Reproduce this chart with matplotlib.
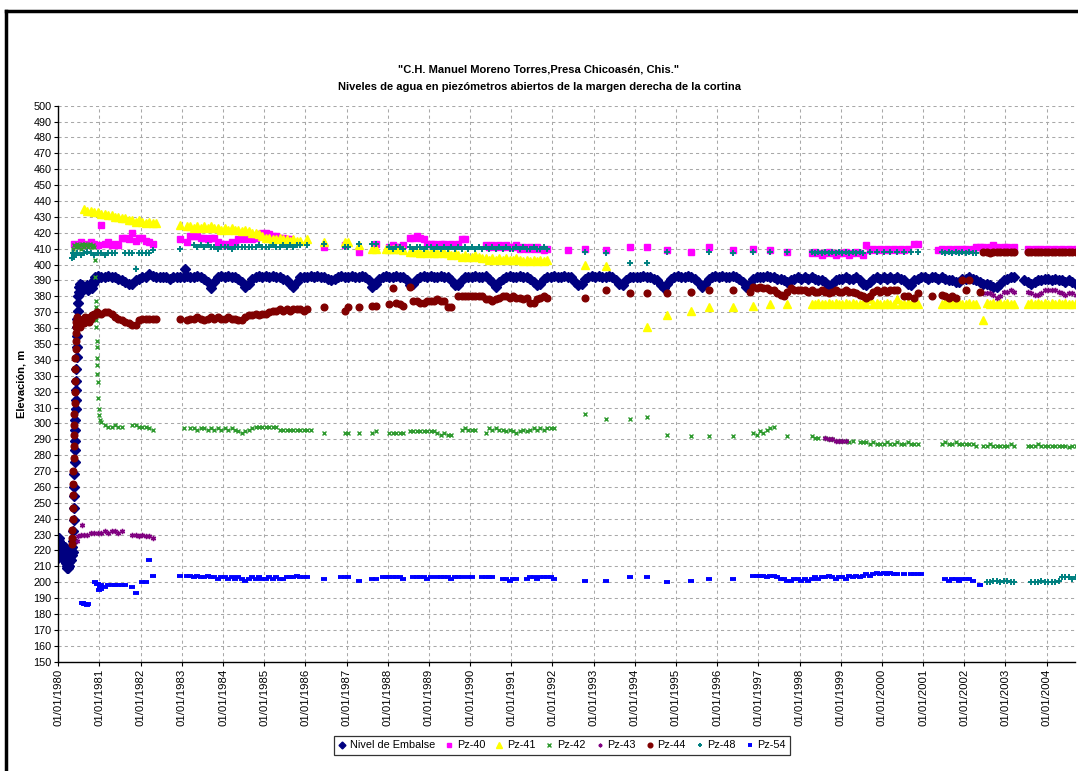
import numpy as np
import matplotlib
matplotlib.use('Agg')
import matplotlib.pyplot as plt
from matplotlib.lines import Line2D

N = None
vacio = [N] * 12

# valores mensuales (ene..dic), una fila por año desde 1980
nivel = [
    vacio,
    [392, 392, 393, 392, 392, 391, 390, 389, 388, 388, 390, 391],
    [392, 392, 394, 393, 392, 392, 392, 392, 391, 392, 392, 392],
    [392, 393, 392, 392, 393, 392, 391, 389, 385, 389, 392, 393],
    [392, 393, 392, 392, 391, 389, 386, 388, 391, 392, 393, 392],
    [393, 392, 393, 392, 392, 391, 390, 388, 386, 389, 392, 392],
    [392, 393, 392, 393, 392, 392, 391, 390, 391, 392, 393, 392],
    [392, 393, 392, 392, 393, 392, 390, 386, 388, 391, 392, 393],
    [392, 392, 393, 392, 392, 390, 387, 388, 391, 392, 393, 392],
    [393, 392, 392, 393, 392, 392, 390, 387, 387, 390, 392, 392],
    [392, 393, 392, 392, 393, 391, 389, 386, 389, 391, 392, 393],
    [392, 392, 393, 392, 392, 391, 389, 387, 388, 391, 392, 392],
    [393, 392, 392, 393, 392, 392, 389, 387, 388, 391, 392, 393],
    [392, 393, 392, 392, 393, 392, 390, 388, 387, 390, 392, 392],
    [392, 392, 393, 392, 392, 391, 390, 387, 385, 388, 391, 392],
    [393, 392, 392, 393, 392, 391, 389, 386, 388, 391, 392, 393],
    [392, 393, 392, 392, 393, 392, 391, 389, 386, 388, 391, 392],
    [392, 392, 393, 392, 392, 391, 391, 390, 389, 390, 391, 392],
    [391, 392, 391, 392, 391, 390, 390, 389, 386, 388, 390, 391],
    [391, 392, 391, 391, 392, 390, 388, 387, 389, 391, 392, 391],
    [392, 391, 392, 391, 392, 391, 390, 388, 387, 390, 391, 392],
    [392, 391, 392, 392, 391, 392, 391, 390, 390, 389, 389, 391],
    [391, 392, 391, 390, 389, 388, 388, 387, 386, 386, 388, 390],
    [391, 392, 392, N, N, 390, 389, 388, 389, 390, 390, 391],
    [391, 390, 391, 390, 390, 389, 390, 389, 388, N, N, N],
]
nivel_ext_t = [1980.00, 1980.01, 1980.02, 1980.03, 1980.04, 1980.05, 1980.06, 1980.07, 1980.08,
               1980.09, 1980.10, 1980.11, 1980.12, 1980.13, 1980.14, 1980.15, 1980.16, 1980.17,
               1980.18, 1980.19, 1980.20, 1980.21, 1980.22, 1980.23, 1980.24, 1980.25, 1980.26,
               1980.27, 1980.28, 1980.29, 1980.30, 1980.31, 1980.32, 1980.33, 1980.34, 1980.35,
               1980.36, 1980.365, 1980.37, 1980.375, 1980.38, 1980.385, 1980.39, 1980.395,
               1980.40, 1980.405, 1980.41, 1980.415, 1980.42, 1980.425, 1980.43, 1980.435,
               1980.44, 1980.445, 1980.45, 1980.455, 1980.46, 1980.465, 1980.47, 1980.48,
               1980.49, 1980.50, 1980.51, 1980.52,
               1980.54, 1980.57, 1980.60, 1980.63, 1980.66, 1980.69, 1980.72, 1980.75,
               1980.78, 1980.81, 1980.84, 1980.87, 1980.90, 1980.93, 1980.96, 1983.08]
nivel_ext_v = [215, 226, 228, 224, 221, 225, 219, 222, 217, 220, 216, 223, 221, 214, 219, 216,
               222, 218, 215, 212, 219, 210, 209, 220, 209, 213, 210, 218, 221, 216, 219, 214,
               220, 217, 222, 219,
               226, 232, 239, 247, 254, 260, 268, 276, 283, 289, 296, 302, 309, 315, 321, 327,
               334, 342, 348, 355, 361, 366, 371, 376, 380, 383, 386, 388,
               385, 387, 384, 386, 385, 387, 384, 386, 387, 385, 388, 390, 392, 391, 393, 397]

pz40 = [
    [N, N, N, N, 413, 412, 414, 413, 412, 414, 413, 412],
    [425, 413, 414, 412, 413, 412, 417, 417, 416, 420, 415, 417],
    [417, 415, 414, 413, N, N, N, N, N, N, N, 416],
    [N, 414, 418, 418, 418, 417, 417, 416, 417, 417, 414, 413],
    [413, 412, 414, 413, 416, 417, 416, 417, 416, 417, 419, 420],
    [420, 419, 418, 418, 417, 417, 416, 416, N, N, N, N],
    [N, N, N, N, N, 411, N, N, N, N, N, 412],
    [N, N, N, 408, N, N, N, N, 413, N, N, N],
    [411, 412, 411, 411, 412, N, 417, 417, 418, 417, 416, 413],
    [413, 413, 412, 413, 413, 412, 413, 412, 413, 416, 416, N],
    [N, N, N, N, 412, 411, 412, 411, 412, 411, 412, 411],
    [411, 412, 410, 411, 410, 411, 410, 411, 410, 409, 410, N],
    [N, N, N, N, 409, N, N, N, N, 410, N, N],
    [N, N, N, 409, N, N, N, N, N, N, 411, N],
    [N, N, N, 411, N, N, N, N, N, 409, N, N],
    [N, N, N, N, 408, N, N, N, N, 411, N, N],
    [N, N, N, N, 409, N, N, N, N, N, 410, N],
    [N, N, N, 409, N, N, N, N, 408, N, N, N],
    [N, N, N, 407, 408, 407, 406, 407, 408, 407, 406, 407],
    [407, 408, 406, 407, 408, 407, 406, 412, 409, 410, 409, 410],
    [409, 410, 409, 410, 409, 410, 409, 410, N, 413, 413, N],
    [N, N, N, N, 409, 410, 409, 410, 409, 410, 409, 410],
    [410, 409, 410, 411, 411, 411, 410, 411, 412, 411, 410, 411],
    [411, 410, 411, N, N, N, 410, 409, 410, 409, 410, 409],
    [410, 409, 410, 409, 410, 409, 410, 409, 410, N, N, N],
]

pz41 = [
    [N, N, N, N, N, N, N, 435, 434, 434, 433, 433],
    [432, 432, 431, 431, 430, 430, 429, 429, 428, 428, 427, 428],
    [427, 426, 427, 426, 426, N, N, N, N, N, N, 425],
    [N, 424, 424, 423, 424, 423, 424, 423, 424, 423, 423, 422],
    [423, 422, 423, 422, 422, 421, 422, 421, 420, 420, 419, 418],
    [417, 417, 416, 416, 417, 416, 416, 415, 416, 415, 415, N],
    [416, N, N, N, N, 414, N, N, N, N, N, 414],
    [414, N, N, 412, N, N, N, 410, 410, N, N, 410],
    [410, 410, 410, 410, 409, N, 408, 408, 408, 407, 408, 407],
    [408, 407, 407, 408, 407, 407, 406, 407, 406, 405, 406, 405],
    [405, 406, 405, 404, 404, 403, 404, 403, 404, 403, 404, 403],
    [403, 404, 403, 402, 403, 402, 403, 402, 403, 402, 403, N],
    [N, N, N, N, N, N, N, N, N, 400, N, N],
    [N, N, N, 399, N, N, N, N, N, N, N, N],
    [N, N, N, 361, N, N, N, N, N, 368, N, N],
    [N, N, N, N, 371, N, N, N, N, 373, N, N],
    [N, N, N, N, 373, N, N, N, N, N, 374, N],
    [N, N, N, 375, N, N, N, N, 375, N, N, N],
    [N, N, N, 375, 375, 376, 375, 375, 376, 375, 376, 375],
    [375, 376, 375, 376, 375, 375, 376, 375, 378, 375, 376, 375],
    [375, 376, 375, 375, 378, 375, 375, 376, 375, 376, 375, N],
    [N, N, N, N, N, 375, 376, 375, 376, 375, 376, 375],
    [375, 376, 375, 375, N, 365, 376, 375, 376, 375, 376, 375],
    [376, 375, 375, N, N, N, 375, 376, 375, 376, 375, 376],
    [375, 376, 375, 376, 375, 376, 375, 375, 376, N, N, N],
]

pz42 = [
    vacio,
    [301, 299, 298, 298, 299, 298, 298, N, N, 299, 299, 298],
    [298, 298, 297, 296, N, N, N, N, N, N, N, N],
    [297, N, 297, 297, 296, 297, 297, 296, 297, 296, 297, 296],
    [297, 296, 297, 296, 295, 294, 295, 296, 297, 298, 298, 298],
    [298, 298, 298, 298, 296, 296, 296, 296, 296, 296, 296, 296],
    [296, 296, N, N, N, 294, N, N, N, N, N, 294],
    [294, N, N, 294, N, N, N, 294, 295, N, N, N],
    [294, 294, 294, 294, 294, N, 295, 295, 295, 295, 295, 295],
    [295, 295, 294, 293, 294, 293, 293, N, N, 296, 297, 296],
    [296, 296, N, N, 294, 297, 296, 297, 296, 296, 295, 296],
    [295, 294, 295, 296, 295, 296, 297, 296, 297, 296, 297, 297],
    [297, N, N, N, N, N, N, N, N, 306, N, N],
    [N, N, N, 303, N, N, N, N, N, N, 303, N],
    [N, N, N, 304, N, N, N, N, N, 293, N, N],
    [N, N, N, N, 292, N, N, N, N, 292, N, N],
    [N, N, N, N, 292, N, N, N, N, N, 294, 293],
    [295, 294, 296, 297, 298, N, N, N, 292, N, N, N],
    [N, N, N, 292, 291, 291, N, 291, 290, 290, N, 289],
    [289, 289, 288, 289, N, 288, 288, 288, 287, 288, 287, 287],
    [287, 288, 287, 287, 288, 287, 287, 288, 287, 287, 287, N],
    [N, N, N, N, N, 287, 288, 287, 287, 288, 287, 287],
    [287, 287, 287, 286, N, 286, 286, 287, 286, 286, 286, 286],
    [286, 287, 286, N, N, N, 286, 286, 286, 287, 286, 286],
    [286, 286, 286, 286, 286, 286, 285, 286, 286, N, N, N],
]
pz42_ext_t = [1980.36, 1980.39, 1980.42, 1980.45, 1980.48, 1980.51, 1980.54, 1980.57, 1980.60,
              1980.63, 1980.66, 1980.69, 1980.72, 1980.75, 1980.78, 1980.81, 1980.84, 1980.87,
              1980.89, 1980.90, 1980.91, 1980.915, 1980.92, 1980.925, 1980.93, 1980.935,
              1980.94, 1980.945, 1980.95, 1980.955, 1980.97, 1980.98, 1981.00, 1981.02]
pz42_ext_v = [410, 412, 411, 413, 411, 412, 410, 413, 412, 411, 413, 412, 411, 412, 413, 411,
              412, 411,
              403, 392, 377, 373, 365, 361, 352, 348, 341, 337, 331, 326, 316, 309, 305, 302]

pz43 = [
    [N, N, N, N, N, N, 230, 230, 230, 231, 231, 231],
    [231, 232, 231, 232, 232, 231, 232, N, N, 230, 230, 229],
    [230, 229, 229, 228, N, N, N, N, N, N, N, N],
    vacio, vacio, vacio, vacio, vacio, vacio, vacio, vacio,
    vacio, vacio, vacio, vacio, vacio, vacio, vacio,
    [N, N, N, N, N, N, N, 291, 290, 290, 289, 289],
    [289, 289, N, N, N, N, N, N, N, N, N, N],
    vacio,
    vacio,
    [N, N, N, N, N, 382, 382, 382, 381, 379, 380, 383],
    [383, 384, 383, N, N, N, 383, 382, 381, 381, 382, 384],
    [384, 384, 384, 383, 382, 381, 382, 382, 381, N, N, N],
]
pz43_ext_t = [1980.45, 1980.47, 1980.57]
pz43_ext_v = [226, 229, 236]

pz44 = [
    vacio,
    [369, 370, 370, 369, 367, 366, 365, 364, 363, 362, 362, 365],
    [366, 366, 366, 366, 366, N, N, N, N, N, N, 366],
    [N, 365, 366, 366, 367, 366, 365, 366, 367, 366, 367, 366],
    [366, 367, 366, 366, 365, 365, 367, 368, 368, 369, 368, 369],
    [369, 370, 371, 371, 372, 371, 372, 371, 372, 372, 372, 371],
    [372, N, N, N, N, 373, N, N, N, N, N, 371],
    [373, N, N, 373, N, N, N, 374, 374, N, N, N],
    [375, 385, 376, 375, 374, N, 386, 377, 377, 376, 376, 377],
    [377, 377, 378, 377, 377, 373, 373, N, 380, 380, 380, 380],
    [380, 380, 380, 380, 378, 378, 377, 378, 379, 380, 380, 379],
    [380, 379, 379, 378, 379, 376, 376, 378, 379, 380, 379, N],
    [N, N, N, N, N, N, N, N, N, 379, N, N],
    [N, N, N, 384, N, N, N, N, N, N, 382, N],
    [N, N, N, 382, N, N, N, N, N, 382, N, N],
    [N, N, N, N, 383, N, N, N, N, 384, N, N],
    [N, N, N, N, 384, N, N, N, N, 383, 386, 385],
    [386, 385, 385, 384, 384, 382, 381, 380, 383, 385, 384, 384],
    [384, 384, 383, 384, 383, 383, 384, 383, 382, 383, 384, 383],
    [383, 384, 383, 383, 382, 381, 380, 379, 380, 383, 384, 383],
    [384, 383, 384, 384, 384, N, 380, 380, N, 379, 382, N],
    [N, N, 380, N, N, 381, 380, 379, 380, 379, N, 390],
    [384, 390, N, N, 383, 408, 408, 407, 408, 408, 408, 408],
    [408, 408, 408, N, N, N, 408, 408, 408, 408, 408, 408],
    [408, 408, 408, 408, 408, 408, 408, 408, 408, N, N, N],
]
pz44_ext_t = [1980.33, 1980.335, 1980.34, 1980.345, 1980.35, 1980.355, 1980.36, 1980.365,
              1980.37, 1980.375, 1980.38, 1980.385, 1980.39, 1980.395, 1980.40, 1980.405,
              1980.41, 1980.415, 1980.42, 1980.425, 1980.43, 1980.435, 1980.44, 1980.45,
              1980.46, 1980.47, 1980.49, 1980.51, 1980.53, 1980.56, 1980.59, 1980.62, 1980.65,
              1980.68, 1980.71, 1980.74, 1980.77, 1980.80, 1980.83, 1980.86, 1980.90, 1980.94]
pz44_ext_v = [224, 228, 233, 240, 247, 255, 262, 270, 278, 286, 293, 299, 306, 313, 320, 327,
              334, 341, 347, 352, 357, 361, 364, 366, 367, 365, 362, 365, 361, 364, 366, 363,
              367, 365, 366, 364, 367, 366, 368, 369, 368, 370]

pz48 = [
    [N, N, N, N, 406, 407, 406, 407, 408, 407, 406, 407],
    [407, 406, 407, 407, 407, N, N, 407, 407, 407, 397, 407],
    [407, 407, 407, 409, N, N, N, N, N, N, N, 410],
    [N, N, N, 412, 411, 412, 411, 412, 411, 411, 410, 411],
    [411, 411, 410, 411, 411, 411, 411, 411, 411, 411, 412, 411],
    [411, 411, 412, 411, 411, 412, 411, 412, 411, 412, 412, N],
    [412, N, N, N, N, 413, N, N, N, N, N, 411],
    [411, N, N, 413, N, N, N, 413, 413, N, N, N],
    [411, 410, 411, 411, 410, N, 411, 410, 411, 411, 410, 411],
    [411, 410, 411, 410, 411, 410, 411, 410, 411, 410, 411, 410],
    [411, 410, 411, 410, 411, 410, 411, 410, 411, 410, 411, 410],
    [410, 411, 410, 411, 410, 410, 411, 410, 410, 411, 410, N],
    [N, N, N, N, N, N, N, N, N, 408, N, N],
    [N, N, N, 407, N, N, N, N, N, N, 401, N],
    [N, N, N, 401, N, N, N, N, N, 408, N, N],
    [N, N, N, N, N, N, N, N, N, 408, N, N],
    [N, N, N, N, 407, N, N, N, N, N, 408, N],
    [N, N, N, 408, N, N, N, N, 408, N, N, N],
    [N, N, N, 408, 407, 408, 407, 408, 407, 408, 407, 408],
    [407, 408, 407, 408, 407, 408, 407, N, 408, N, 408, N],
    [408, N, 408, N, 408, N, 408, N, 408, N, 408, N],
    [N, N, N, N, N, 408, 407, 408, 407, 408, 407, 408],
    [407, 408, 407, 407, N, N, 200, 200, 201, 201, 200, 201],
    [201, 200, 200, N, N, N, N, 200, 200, 200, 201, 200],
    [200, 200, 200, 201, 203, 203, 203, 202, 203, N, N, N],
]
pz48_ext_t = [1980.33, 1980.35, 1980.38]
pz48_ext_v = [404, 407, 405]

pz54 = [
    vacio,
    [198, 197, 198, 198, 198, 198, 198, 198, N, 197, 193, N],
    [200, 200, 214, 204, N, N, N, N, N, N, N, 204],
    [N, 204, 204, 203, 204, 203, 203, 204, 203, 203, 202, 203],
    [203, 202, 203, 202, 203, 202, 201, 202, 203, 202, 203, 202],
    [202, 203, 202, 203, 202, 202, 203, 203, 203, 204, 203, 203],
    [203, N, N, N, N, 202, N, N, N, N, 203, 203],
    [203, N, N, 201, N, N, N, 202, 202, N, 203, 203],
    [203, 203, 203, 203, 202, N, N, 203, 203, 203, 203, 202],
    [203, N, 203, 203, 203, 203, 202, 203, 203, 203, N, 203],
    [203, N, N, 203, 203, 203, 203, N, N, 202, 202, 201],
    [202, 202, N, N, 202, 203, 203, 202, 203, 203, 203, 203],
    [202, N, N, N, N, N, N, N, N, 201, N, N],
    [N, N, N, 201, N, N, N, N, N, N, 203, N],
    [N, N, N, 203, N, N, N, N, N, 200, N, N],
    [N, N, N, N, 201, N, N, N, N, 202, N, N],
    [N, N, N, N, 202, N, N, N, N, N, 204, 204],
    [204, 204, 203, 204, 204, 203, 202, 202, 201, 201, 202, 202],
    [201, 202, 201, 202, 203, 202, 203, 203, 204, 203, 202, 203],
    [203, 202, 204, 203, 204, 203, 204, 205, 204, 205, 206, 205],
    [206, 205, 206, 205, 205, N, 205, N, 205, 205, 205, 205],
    [N, N, N, N, N, N, 202, 201, 202, 202, 201, 202],
    [202, 202, 201, N, 198, N, N, N, N, N, N, N],
    vacio,
    vacio,
]
pz54_ext_t = [1980.57, 1980.60, 1980.63, 1980.66, 1980.69, 1980.72,
              1980.90, 1980.93, 1980.96, 1980.99, 1981.01, 1981.03]
pz54_ext_v = [187, 187, 186.5, 186, 185.5, 186, 200, 199, 199, 195, 197, 196]

anios = list(range(1980, 2005))


def mensual(filas, ext_t=(), ext_v=()):
    """filas por año -> listas de fecha decimal y valor"""
    t, v = list(ext_t), list(ext_v)
    for anio, fila in zip(anios, filas):
        for m, val in enumerate(fila):
            if val is not None:
                t.append(anio + (m + 0.5) / 12)
                v.append(val)
    return t, v


plt.rcParams['font.family'] = ['Liberation Sans', 'DejaVu Sans']

fig = plt.figure(figsize=(10.78, 7.71), dpi=100)
ax = fig.add_axes([0.0541, 0.1418, 0.9431, 0.7211])

series = [
    ('Nivel de Embalse', nivel, nivel_ext_t, nivel_ext_v,
     dict(marker='D', color='#000080', ms=5.0)),
    ('Pz-40', pz40, (), (), dict(marker='s', color='#FF00FF', ms=4.6)),
    ('Pz-41', pz41, (), (), dict(marker='^', color='#FFFF00', ms=5.2)),
    ('Pz-42', pz42, pz42_ext_t, pz42_ext_v,
     dict(marker='x', color='#2E9A2E', ms=3.3, mew=1.0)),
    ('Pz-43', pz43, pz43_ext_t, pz43_ext_v,
     dict(marker=(6, 2, 0), color='#800080', ms=3.8, mew=1.0)),
    ('Pz-44', pz44, pz44_ext_t, pz44_ext_v,
     dict(marker='o', color='#800000', ms=4.8)),
    ('Pz-48', pz48, pz48_ext_t, pz48_ext_v,
     dict(marker='+', color='#008080', ms=4.4, mew=1.4)),
    ('Pz-54', pz54, pz54_ext_t, pz54_ext_v,
     dict(marker='_', color='#0000FF', ms=3.8, mew=2.8)),
]

handles = []
for nombre, filas, et, ev, estilo in series:
    t, v = mensual(filas, et, ev)
    ln, = ax.plot(t, v, linestyle='none', label=nombre, **estilo)
    handles.append(ln)

ax.set_xlim(1980, 2004.69)
ax.set_ylim(150, 500)
ax.set_yticks(range(150, 501, 10))
ax.set_xticks(anios)
ax.set_xticklabels(['01/01/%d' % a for a in anios], rotation=90)
ax.tick_params(axis='both', labelsize=8.2, direction='out', length=3, width=0.8,
               color='black', pad=2)
ax.tick_params(axis='y', labelsize=7.8)
ax.grid(True, color='#a8a8a8', linestyle=(0, (3, 3)), linewidth=0.75)
ax.set_axisbelow(True)
for s in ['top', 'right']:
    ax.spines[s].set_visible(False)
for s in ['left', 'bottom']:
    ax.spines[s].set_linewidth(1.0)

ax.set_ylabel('Elevación, m', fontsize=8, fontweight='bold', labelpad=5)

fig.text(0.5, 1 - 70 / 771, '"C.H. Manuel Moreno Torres,Presa Chicoasén, Chis."',
         ha='center', va='center', fontsize=8, fontweight='bold')
fig.text(0.5, 1 - 87 / 771, 'Niveles de agua en piezómetros abiertos de la margen derecha de la cortina',
         ha='center', va='center', fontsize=8, fontweight='bold')

leg = fig.legend(handles=handles, loc='center', bbox_to_anchor=(562 / 1078, 1 - 745.5 / 771),
                 ncol=8, fontsize=7.8, frameon=True, fancybox=False, edgecolor='black',
                 handlelength=0.8, handletextpad=0.3, columnspacing=0.9, markerscale=0.7,
                 borderpad=0.4)
leg.get_frame().set_linewidth(0.9)

# marco del gráfico
fig.add_artist(Line2D([6 / 1078, 6 / 1078], [0, 1 - 11 / 771], color='black', lw=2.5,
                      transform=fig.transFigure, solid_capstyle='projecting'))
fig.add_artist(Line2D([6 / 1078, 1], [1 - 11 / 771, 1 - 11 / 771], color='black', lw=2.5,
                      transform=fig.transFigure, solid_capstyle='projecting'))

fig.savefig('out.png', dpi=100)
